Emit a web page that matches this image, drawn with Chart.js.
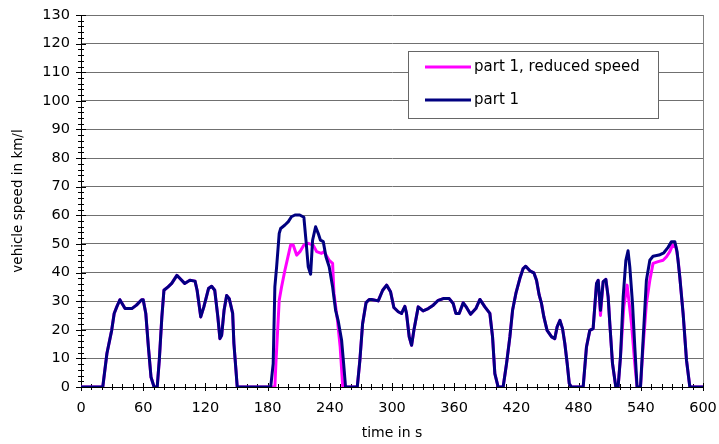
<!DOCTYPE html>
<html>
<head>
<meta charset="utf-8">
<script src="https://cdn.jsdelivr.net/npm/chart.js@4.4.1/dist/chart.umd.min.js"></script>
<style>
  html, body { margin: 0; padding: 0; background: #fff; }
  canvas { display: block; }
</style>
</head>
<body>
<canvas id="speedChart" width="719" height="444"></canvas>
<script>
// part 1 (blue)
const part1Time = [0, 21, 25, 29.6, 32, 34.5, 37.5, 42.5, 49, 53.5, 58.5, 60, 62.5, 65, 67.5, 70.5, 73.5, 75.5, 78, 80,
  84, 87.5, 92.5, 95.5, 100, 105, 110, 112, 115.5, 118.5, 123, 126, 129, 132, 134, 135.7, 138, 140.5, 143, 146.3,
  147.5, 149.5, 150.7, 183, 185.4, 187, 188.7, 191.2, 192.6, 196.7, 200, 203, 206.4, 211, 215, 217, 219.2, 221.5, 223.4, 226.3,
  228.8, 231, 233.7, 236.3, 239.4, 242.7, 245.6, 248, 251.4, 253.6, 255.2, 266.5, 269, 271.6, 275, 278, 280.3, 286.7, 291, 294.8,
  298.6, 301.8, 306, 309.2, 312.4, 314, 316.6, 318.9, 321.1, 325.3, 330, 335, 339.8, 344.6, 349.4, 355.2, 359, 361.6, 364.8, 368.7,
  371.9, 375.8, 380.9, 384.8, 389.6, 394.4, 397, 399.2, 402.4, 407.2, 410.5, 413.7, 416.3, 419.5, 423.3, 426.5, 429, 433, 436.8, 439.4,
  442, 444.2, 446.5, 449.6, 454, 457, 459.3, 462, 464.5, 466.7, 469, 471, 473, 484.4, 487.6, 490.8, 494, 497.3, 498.9, 501.1,
  503.7, 506.3, 508.5, 510.1, 512.7, 515.9, 518.1, 520.4, 523, 525.6, 527.7, 529.4, 532, 534.2, 536.4, 539.7, 542.2, 545.4, 548.7, 551.8,
  557.6, 562.2, 566.3, 569.6, 572.8, 575, 577.6, 580.8, 584.1, 587.3, 600];
const part1Speed = [0, 0, 11.7, 19.8, 25.7, 28, 30.5, 27.4, 27.4, 28.6, 30.5, 30.5, 25.7, 14, 3.5, 0, 0, 9.3, 24.5, 33.8,
  35, 36.2, 39, 37.9, 36.2, 37.3, 37, 33.8, 24.5, 28, 34.4, 35.2, 33.8, 24.5, 16.9, 18.1, 26.8, 32, 30.9, 25.7,
  15.2, 5.8, 0, 0, 8.2, 35, 42, 53.7, 55.4, 56.6, 57.8, 59.5, 60.1, 60.1, 59.3, 51.3, 42, 39.4, 51.3, 56,
  53.7, 51.3, 50.8, 45.5, 42, 35, 26.8, 23.3, 16.3, 7, 0, 0, 9.3, 22, 29.5, 30.6, 30.6, 30.1, 33.8, 35.6,
  33.3, 27.8, 26.3, 25.7, 28.2, 25.7, 17.5, 14.6, 19.8, 28, 26.6, 27.4, 28.6, 30.3, 30.9, 30.9, 29.2, 25.7, 25.7, 29.4,
  27.8, 25.4, 27.4, 30.6, 28, 25.7, 17.5, 4.7, 0, 0, 8.2, 17.5, 26.8, 32.7, 37.9, 41.4, 42.2, 40.6, 39.9, 37.3,
  32.1, 29.2, 24.5, 19.8, 17.5, 16.9, 21, 23.3, 20.4, 15.2, 8.2, 1.2, 0, 0, 14, 19.8, 20.4, 36.2, 37.3, 26.8,
  36.8, 37.6, 31.5, 22.2, 8.2, 0, 0, 10.5, 31.5, 44.3, 47.6, 42, 29.2, 14, 0, 0, 16.3, 37.3, 44.3, 45.7,
  46.1, 46.9, 48.8, 50.8, 50.8, 47.3, 38.5, 25.7, 9.3, 0, 0];

// part 1, reduced speed (magenta)
const reducedTime = [0, 21, 25, 29.6, 32, 34.5, 37.5, 42.5, 49, 53.5, 58.5, 60, 62.5, 65, 67.5, 70.5, 73.5, 75.5, 78, 80,
  84, 87.5, 92.5, 95.5, 100, 105, 110, 112, 115.5, 118.5, 123, 126, 129, 132, 134, 135.7, 138, 140.5, 143, 146.3,
  147.5, 149.5, 150.7, 187, 188, 191.2, 193.5, 196.7, 200, 202.2, 204.7, 208, 211.2, 215, 219.2, 224, 227.3, 232, 234.3, 239.4,
  242.7, 244, 247.4, 250, 252.5, 266.5, 269, 271.6, 275, 278, 280.3, 286.7, 291, 294.8,
  298.6, 301.8, 306, 309.2, 312.4, 314, 316.6, 318.9, 321.1, 325.3, 330, 335, 339.8, 344.6, 349.4, 355.2, 359, 361.6, 364.8, 368.7,
  371.9, 375.8, 380.9, 384.8, 389.6, 394.4, 397, 399.2, 402.4, 407.2, 410.5, 413.7, 416.3, 419.5, 423.3, 426.5, 429, 433, 436.8, 439.4,
  442, 444.2, 446.5, 449.6, 454, 457, 459.3, 462, 464.5, 466.7, 469, 471, 473, 484.4, 487.6, 490.8, 494, 497.3, 498.9, 501.1,
  503.7, 506.3, 508.5, 510.1, 512.7, 515.9, 518.1, 520.4, 523.6, 526.8, 531, 534.2, 536.4, 539.7, 542.2, 545.4, 548.7, 551.8,
  556.7, 561.5, 564.8, 568, 570.6, 573.8, 576, 577.6, 580.8, 584.1, 587.3, 600];
const reducedSpeed = [0, 0, 11.7, 19.8, 25.7, 28, 30.5, 27.4, 27.4, 28.6, 30.5, 30.5, 25.7, 14, 3.5, 0, 0, 9.3, 24.5, 33.8,
  35, 36.2, 39, 37.9, 36.2, 37.3, 37, 33.8, 24.5, 28, 34.4, 35.2, 33.8, 24.5, 16.9, 18.1, 26.8, 32, 30.9, 25.7,
  15.2, 5.8, 0, 0, 8.2, 30.3, 35, 40.8, 46.1, 49.6, 49.6, 46.1, 47.3, 49.6, 50.2, 49.6, 47.3, 46.7, 47.3, 44.3,
  43.2, 32.7, 23.3, 14, 0, 0, 9.3, 22, 29.5, 30.6, 30.6, 30.1, 33.8, 35.6,
  33.3, 27.8, 26.3, 25.7, 28.2, 25.7, 17.5, 14.6, 19.8, 28, 26.6, 27.4, 28.6, 30.3, 30.9, 30.9, 29.2, 25.7, 25.7, 29.4,
  27.8, 25.4, 27.4, 30.6, 28, 25.7, 17.5, 4.7, 0, 0, 8.2, 17.5, 26.8, 32.7, 37.9, 41.4, 42.2, 40.6, 39.9, 37.3,
  32.1, 29.2, 24.5, 19.8, 17.5, 16.9, 21, 23.3, 20.4, 15.2, 8.2, 1.2, 0, 0, 14, 19.8, 20.4, 36.2, 37.3, 25,
  36.8, 37.6, 31.5, 22.2, 8.2, 0, 0, 10.5, 28, 35.6, 22.2, 8.2, 0, 0, 14, 29.2, 37.3, 43.2,
  43.8, 44.3, 45.5, 47.3, 49.6, 49, 44.3, 38.5, 25.7, 9.3, 0, 0];

const seriesNames = ["part 1, reduced speed", "part 1"];
const seriesColors = ["#ff00ff", "#000080"];

function toPoints(ts, vs) {
  return ts.map((t, i) => ({ x: t, y: vs[i] }));
}

const FONT = "'DejaVu Sans', sans-serif";

// crossing tick marks, right border and the boxed legend
const decor = {
  id: "decor",
  beforeDatasetsDraw(chart) {
    const { ctx, chartArea: a, scales: { x, y } } = chart;
    ctx.save();
    ctx.strokeStyle = "#808080";
    ctx.lineWidth = 1;
    ctx.beginPath();
    ctx.moveTo(a.right + 0.5, a.top);
    ctx.lineTo(a.right + 0.5, a.bottom);
    ctx.stroke();
    ctx.strokeStyle = "#000";
    ctx.beginPath();
    for (let v = 0; v <= 130; v += 2) {
      const py = Math.round(y.getPixelForValue(v)) + 0.5;
      const major = v % 10 === 0;
      ctx.moveTo(a.left - (major ? 5 : 3), py);
      ctx.lineTo(a.left + (major ? 5 : 3), py);
    }
    for (let t = 0; t <= 600; t += 10) {
      const px = Math.round(x.getPixelForValue(t)) + 0.5;
      const major = t % 60 === 0;
      ctx.moveTo(px, a.bottom - (major ? 4 : 3));
      ctx.lineTo(px, a.bottom + (major ? 4 : 3));
    }
    ctx.stroke();
    ctx.restore();
  },
  afterDatasetsDraw(chart) {
    const { ctx, chartArea: a } = chart;
    const bx = a.left + 327, by = a.top + 36, bw = 250, bh = 67;
    ctx.save();
    ctx.fillStyle = "#fff";
    ctx.fillRect(bx, by, bw, bh);
    ctx.strokeStyle = "#666";
    ctx.lineWidth = 1;
    ctx.strokeRect(bx + 0.5, by + 0.5, bw, bh);
    ctx.font = "15px " + FONT;
    ctx.textBaseline = "middle";
    ctx.fillStyle = "#000";
    const rows = [by + 16, by + 49];
    seriesNames.forEach((name, i) => {
      ctx.strokeStyle = seriesColors[i];
      ctx.lineWidth = 3;
      ctx.beginPath();
      ctx.moveTo(bx + 17, rows[i]);
      ctx.lineTo(bx + 63, rows[i]);
      ctx.stroke();
      ctx.fillText(name, bx + 66, rows[i]);
    });
    ctx.restore();
  }
};

new Chart(document.getElementById("speedChart"), {
  type: "line",
  data: {
    datasets: [
      { label: seriesNames[1], data: toPoints(part1Time, part1Speed), borderColor: seriesColors[1], borderWidth: 3, pointRadius: 0, tension: 0, borderJoinStyle: "round" },
      { label: seriesNames[0], data: toPoints(reducedTime, reducedSpeed), borderColor: seriesColors[0], borderWidth: 3, pointRadius: 0, tension: 0, borderJoinStyle: "round" }
    ]
  },
  options: {
    responsive: false,
    animation: false,
    layout: { padding: { top: 15, right: 16, left: 0, bottom: 0 } },
    plugins: { legend: { display: false }, tooltip: { enabled: false } },
    scales: {
      x: {
        type: "linear", min: 0, max: 600,
        ticks: { stepSize: 60, color: "#000", font: { family: FONT, size: 14.5 }, padding: 13, maxRotation: 0 },
        grid: { display: false, drawTicks: false },
        border: { color: "#000", width: 1 },
        title: { display: true, text: "time in s", color: "#000", font: { family: FONT, size: 14 }, padding: { top: 4, bottom: 2 } },
        afterFit(s) { s.height = 57; s.paddingLeft = 0; s.paddingRight = 0; }
      },
      y: {
        min: 0, max: 130,
        ticks: { stepSize: 10, color: "#000", font: { family: FONT, size: 14.5 }, padding: 11 },
        grid: { color: "#707070", drawTicks: false },
        border: { color: "#000", width: 1 },
        title: { display: true, text: "vehicle speed in km/l", color: "#000", font: { family: FONT, size: 13.5 }, padding: { top: 10, bottom: 0 } },
        afterFit(s) { s.width = 81; s.paddingTop = 0; s.paddingBottom = 0; }
      }
    }
  },
  plugins: [decor]
});
</script>
</body>
</html>
